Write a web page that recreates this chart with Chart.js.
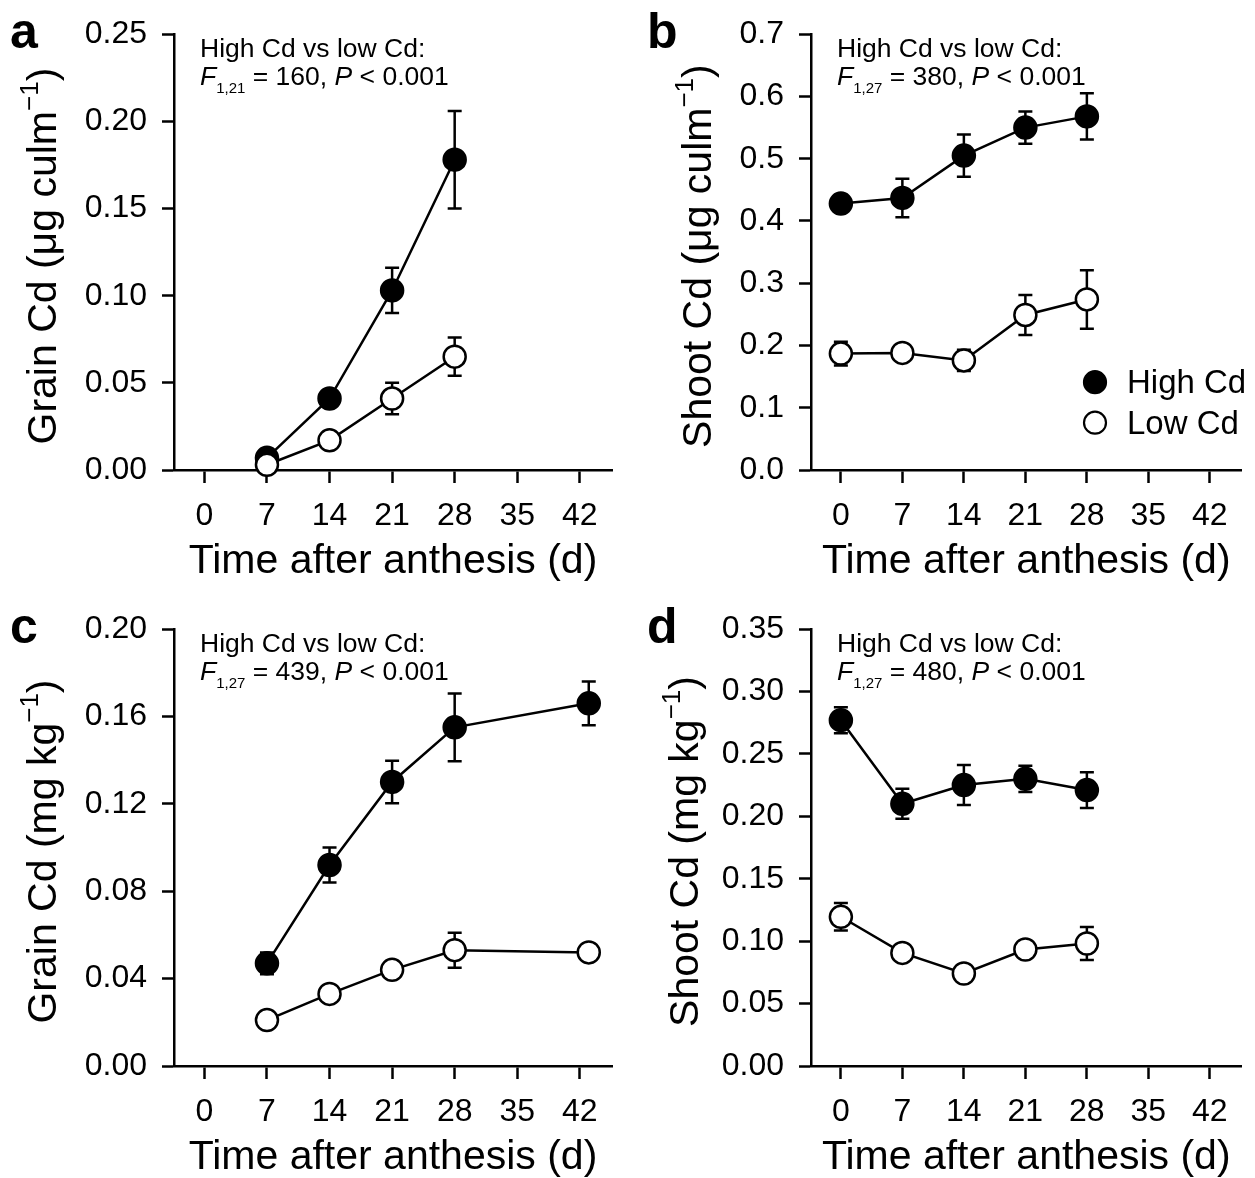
<!DOCTYPE html>
<html>
<head>
<meta charset="utf-8">
<script src="https://cdn.jsdelivr.net/npm/chart.js@4.4.1/dist/chart.umd.min.js"></script>
<style>
  html, body { margin: 0; padding: 0; background: #fff; }
  body { width: 1255px; height: 1178px; position: relative; overflow: hidden; }
  canvas { position: absolute; }
</style>
</head>
<body>
<canvas id="pa" width="630" height="590" style="left:0;top:0"></canvas>
<canvas id="pb" width="625" height="590" style="left:630px;top:0"></canvas>
<canvas id="pc" width="630" height="588" style="left:0;top:590px"></canvas>
<canvas id="pd" width="625" height="588" style="left:630px;top:590px"></canvas>
<script>
"use strict";

const FONT = "'Liberation Sans', Arial, Helvetica, sans-serif";

// ---- data ----
const dayTicks = [0, 7, 14, 21, 28, 35, 42];

// a: grain Cd per culm
const grainCulmDays = [7, 14, 21, 28];
const grainCulmHigh = [0.007, 0.041, 0.103, 0.178];
const grainCulmHighErr = [0.002, 0.004, 0.013, 0.028];
const grainCulmLow = [0.003, 0.017, 0.041, 0.065];
const grainCulmLowErr = [0.001, 0.003, 0.009, 0.011];
const grainCulmTicks = [0, 0.05, 0.10, 0.15, 0.20, 0.25];

// b: shoot Cd per culm
const shootCulmDays = [0, 7, 14, 21, 28];
const shootCulmHigh = [0.428, 0.437, 0.505, 0.550, 0.568];
const shootCulmHighErr = [0.008, 0.031, 0.034, 0.026, 0.037];
const shootCulmLow = [0.187, 0.188, 0.176, 0.249, 0.274];
const shootCulmLowErr = [0.019, 0.010, 0.017, 0.032, 0.047];
const shootCulmTicks = [0, 0.1, 0.2, 0.3, 0.4, 0.5, 0.6, 0.7];

// c: grain Cd concentration
const grainConcDays = [7, 14, 21, 28, 43];
const grainConcHigh = [0.047, 0.092, 0.130, 0.155, 0.166];
const grainConcHighErr = [0.005, 0.008, 0.0097, 0.0155, 0.010];
const grainConcLow = [0.021, 0.033, 0.044, 0.053, 0.052];
const grainConcLowErr = [0.002, 0.003, 0.003, 0.008, 0.003];
const grainConcTicks = [0, 0.04, 0.08, 0.12, 0.16, 0.20];

// d: shoot Cd concentration
const shootConcDays = [0, 7, 14, 21, 28];
const shootConcHigh = [0.277, 0.210, 0.225, 0.230, 0.221];
const shootConcHighErr = [0.0104, 0.012, 0.016, 0.0105, 0.0143];
const shootConcLow = [0.1195, 0.0906, 0.0741, 0.0933, 0.0981];
const shootConcLowErr = [0.011, 0.004, 0.004, 0.004, 0.0133];
const shootConcTicks = [0, 0.05, 0.10, 0.15, 0.20, 0.25, 0.30, 0.35];

const X_MIN = -3.4, X_MAX = 45.6;

// ---- helpers ----
function drawRuns(ctx, x, y, parts, center) {
  let w = 0;
  for (const p of parts) { ctx.font = p.font; w += ctx.measureText(p.t).width; }
  let cx = center ? x - w / 2 : x;
  for (const p of parts) {
    ctx.font = p.font;
    ctx.fillText(p.t, cx, y + (p.dy || 0));
    cx += ctx.measureText(p.t).width;
  }
}

function series(label, xs, ys, err, filled) {
  return {
    label, err,
    data: xs.map((x, i) => ({ x, y: ys[i] })),
    borderColor: "#000", borderWidth: 2.5,
    pointRadius: 11, pointHoverRadius: 11, pointBorderWidth: 2.5,
    pointBackgroundColor: filled ? "#000" : "#fff", pointBorderColor: "#000",
    fill: false, tension: 0, clip: false,
    order: filled ? 2 : 1,
  };
}

function makePanel(id, p) {
  const canvas = document.getElementById(id);
  const W = canvas.width, H = canvas.height;
  const a = p.area;  // wanted chart area in canvas px
  const yt = p.yTicks;

  const decor = {
    id: "decor",
    beforeDatasetsDraw(chart) {
      const { ctx, scales: { x, y } } = chart;
      ctx.save();
      ctx.strokeStyle = "#000"; ctx.lineWidth = 2.5;
      chart.data.datasets.forEach((ds) => {
        ds.data.forEach((pt, i) => {
          const e = ds.err[i];
          if (!e) return;
          const px = x.getPixelForValue(pt.x);
          const t = y.getPixelForValue(pt.y + e), b = y.getPixelForValue(pt.y - e);
          ctx.beginPath();
          ctx.moveTo(px, t); ctx.lineTo(px, b);
          ctx.moveTo(px - 7, t); ctx.lineTo(px + 7, t);
          ctx.moveTo(px - 7, b); ctx.lineTo(px + 7, b);
          ctx.stroke();
        });
      });
      ctx.restore();
    },
    afterDraw(chart) {
      const { ctx, chartArea: ca } = chart;
      ctx.save();
      ctx.fillStyle = "#000";
      ctx.textBaseline = "alphabetic";
      ctx.textAlign = "left";

      // panel letter
      ctx.font = "bold 50px " + FONT;
      ctx.fillText(p.letter, ca.left - 164, ca.top + 14);

      // y title with superscript, rotated
      ctx.save();
      ctx.translate(ca.left - p.yTitleOff, (ca.top + ca.bottom) / 2 + 4);
      ctx.rotate(-Math.PI / 2);
      drawRuns(ctx, 0, 0, [
        { t: p.yTitle, font: "41px " + FONT },
        { t: "\u22121", font: "26px " + FONT, dy: -18 },
        { t: ")", font: "41px " + FONT },
      ], true);
      ctx.restore();

      // statistics note
      const sx = ca.left + 26;
      ctx.font = "26.5px " + FONT;
      ctx.fillText("High Cd vs low Cd:", sx, ca.top + 23);
      drawRuns(ctx, sx, ca.top + 51, [
        { t: "F", font: "italic 26.5px " + FONT },
        { t: p.df, font: "15px " + FONT, dy: 8 },
        { t: " = " + p.fval + ", ", font: "26.5px " + FONT },
        { t: "P", font: "italic 26.5px " + FONT },
        { t: " < 0.001", font: "26.5px " + FONT },
      ], false);

      // legend
      if (p.legend) {
        const lx = ca.left + 284;
        const rows = [["High Cd", "#000", 348], ["Low Cd", "#fff", 388.5]];
        for (const [txt, fillC, dy] of rows) {
          ctx.beginPath();
          ctx.arc(lx, ca.top + dy, 11, 0, Math.PI * 2);
          ctx.fillStyle = fillC; ctx.fill();
          ctx.lineWidth = 2.2; ctx.strokeStyle = "#000"; ctx.stroke();
          ctx.fillStyle = "#000";
          ctx.font = "33px " + FONT;
          ctx.fillText(txt, ca.left + 316, ca.top + dy + 11);
        }
      }
      ctx.restore();
    },
  };

  const titleBottomPad = H - (a.bottom + 92) - 20.5;

  return new Chart(canvas, {
    type: "line",
    data: {
      datasets: [
        series("High Cd", p.days, p.high, p.highErr, true),
        series("Low Cd", p.days, p.low, p.lowErr, false),
      ],
    },
    options: {
      responsive: false, animation: false, devicePixelRatio: 1,
      events: [],
      layout: { padding: { left: 0, top: a.top, right: W - a.right, bottom: 0 } },
      plugins: { legend: { display: false }, tooltip: { enabled: false } },
      scales: {
        x: {
          type: "linear", min: X_MIN, max: X_MAX,
          afterBuildTicks: (s) => { s.ticks = dayTicks.map((v) => ({ value: v })); },
          afterFit: (s) => { s.height = H - a.bottom; },
          ticks: {
            autoSkip: false, maxRotation: 0, padding: 14, color: "#000",
            font: { family: FONT, size: 32 }, callback: (v) => String(v),
          },
          grid: { drawOnChartArea: false, drawTicks: true, tickLength: 13, tickWidth: 2.5, tickColor: "#000" },
          border: { display: true, color: "#000", width: 2.5 },
          title: {
            display: true, text: "Time after anthesis (d)", color: "#000",
            font: { family: FONT, size: 41, lineHeight: 1 },
            padding: { top: 0, bottom: titleBottomPad },
          },
        },
        y: {
          type: "linear", min: yt[0], max: yt[yt.length - 1],
          afterBuildTicks: (s) => { s.ticks = yt.map((v) => ({ value: v })); },
          afterFit: (s) => { s.width = a.left; },
          ticks: {
            autoSkip: false, padding: 15, color: "#000",
            font: { family: FONT, size: 32 }, callback: (v) => v.toFixed(p.dec),
          },
          grid: { drawOnChartArea: false, drawTicks: true, tickLength: 12, tickWidth: 2.5, tickColor: "#000" },
          border: { display: true, color: "#000", width: 2.5 },
        },
      },
    },
    plugins: [decor],
  });
}

makePanel("pa", {
  area: { left: 174, top: 33, right: 612, bottom: 470 },
  letter: "a", yTitle: "Grain Cd (\u03bcg culm", yTitleOff: 118,
  df: "1,21", fval: "160",
  days: grainCulmDays, high: grainCulmHigh, highErr: grainCulmHighErr,
  low: grainCulmLow, lowErr: grainCulmLowErr, yTicks: grainCulmTicks, dec: 2,
});

makePanel("pb", {
  area: { left: 181, top: 33, right: 617, bottom: 470 },
  letter: "b", yTitle: "Shoot Cd (\u03bcg culm", yTitleOff: 100,
  df: "1,27", fval: "380", legend: true,
  days: shootCulmDays, high: shootCulmHigh, highErr: shootCulmHighErr,
  low: shootCulmLow, lowErr: shootCulmLowErr, yTicks: shootCulmTicks, dec: 1,
});

makePanel("pc", {
  area: { left: 174, top: 39, right: 612, bottom: 476 },
  letter: "c", yTitle: "Grain Cd (mg kg", yTitleOff: 118,
  df: "1,27", fval: "439",
  days: grainConcDays, high: grainConcHigh, highErr: grainConcHighErr,
  low: grainConcLow, lowErr: grainConcLowErr, yTicks: grainConcTicks, dec: 2,
});

makePanel("pd", {
  area: { left: 181, top: 39, right: 617, bottom: 476 },
  letter: "d", yTitle: "Shoot Cd (mg kg", yTitleOff: 113,
  df: "1,27", fval: "480",
  days: shootConcDays, high: shootConcHigh, highErr: shootConcHighErr,
  low: shootConcLow, lowErr: shootConcLowErr, yTicks: shootConcTicks, dec: 2,
});
</script>
</body>
</html>
